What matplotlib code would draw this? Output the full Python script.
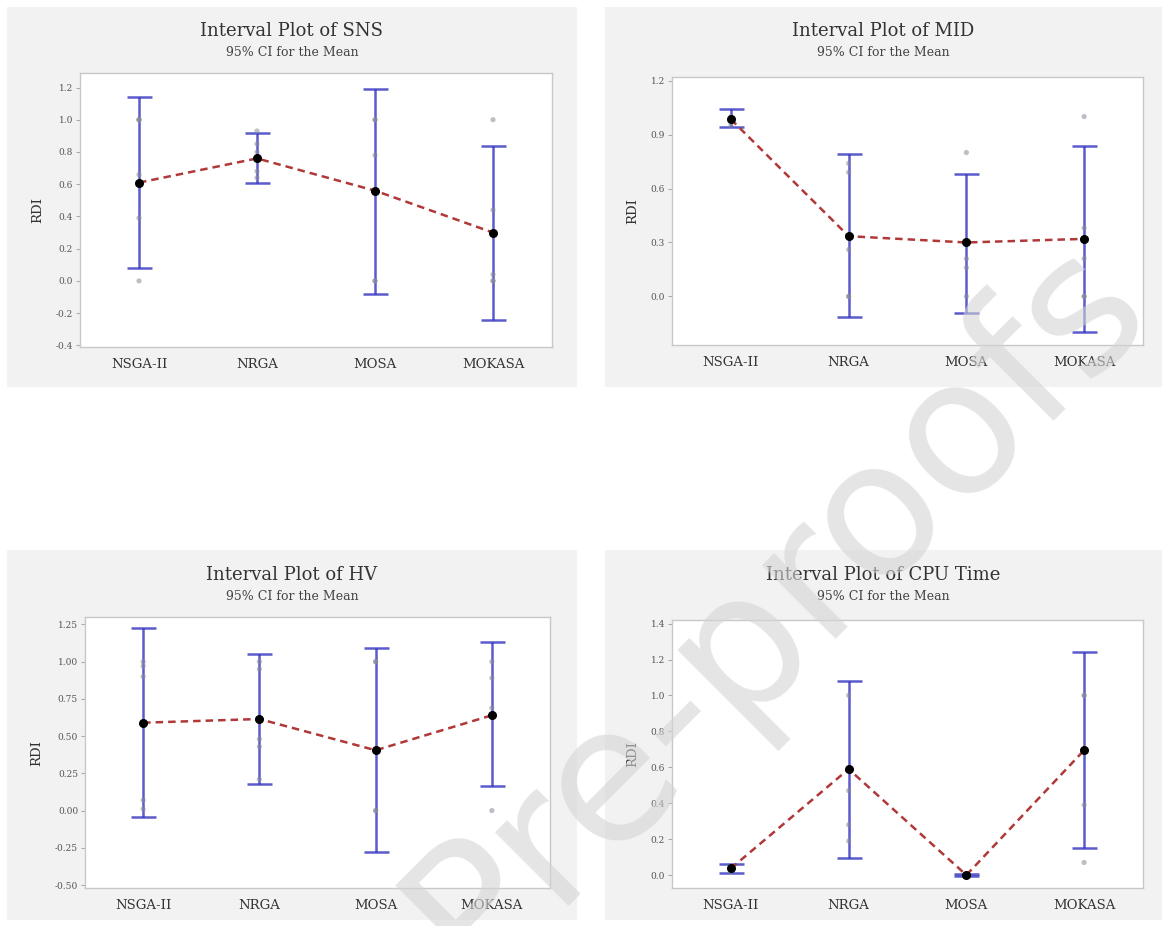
import numpy as np
import matplotlib
matplotlib.use('Agg')
import matplotlib.pyplot as plt
from matplotlib.patches import Rectangle

W, H = 1166, 926

groups = ['NSGA-II', 'NRGA', 'MOSA', 'MOKASA']

# SNS
sns_mean = [0.61, 0.76, 0.56, 0.30]
sns_low = [0.08, 0.61, -0.08, -0.24]
sns_high = [1.14, 0.92, 1.19, 0.84]
sns_pts = [[1.0, 1.0, 1.0, 0.66, 0.39, 0.0],
           [0.93, 0.85, 0.80, 0.68, 0.64],
           [1.0, 1.0, 0.78, 0.0, 0.0],
           [1.0, 0.44, 0.04, 0.0, 0.0]]

# MID
mid_mean = [0.985, 0.335, 0.30, 0.32]
mid_low = [0.94, -0.115, -0.09, -0.20]
mid_high = [1.04, 0.79, 0.68, 0.835]
mid_pts = [[1.0, 0.99, 0.97, 0.95],
           [0.74, 0.69, 0.26, 0.0, 0.0],
           [0.80, 0.21, 0.16, 0.0],
           [1.0, 0.38, 0.21, 0.0, 0.0]]

# HV
hv_mean = [0.59, 0.615, 0.405, 0.64]
hv_low = [-0.04, 0.18, -0.275, 0.165]
hv_high = [1.225, 1.05, 1.09, 1.13]
hv_pts = [[1.0, 0.97, 0.90, 0.07, 0.01],
          [1.0, 0.95, 0.48, 0.43, 0.21],
          [1.0, 1.0, 0.0, 0.0],
          [1.0, 0.89, 0.69, 0.0]]

# CPU time
cpu_mean = [0.037, 0.59, 0.0, 0.695]
cpu_low = [0.013, 0.097, -0.004, 0.15]
cpu_high = [0.059, 1.08, 0.005, 1.24]
cpu_pts = [[0.05, 0.04, 0.03, 0.02],
           [1.0, 0.47, 0.28, 0.19],
           [0.0, 0.0],
           [1.0, 1.0, 0.39, 0.07]]

panels = [
    ('SNS', sns_mean, sns_low, sns_high, sns_pts, (7, 7, 577, 387), (80, 73, 552, 347),
     (-0.41, 1.29), np.arange(-0.4, 1.21, 0.2), '%.1f', 31),
    ('MID', mid_mean, mid_low, mid_high, mid_pts, (605, 7, 1162, 387), (672, 77, 1143, 345),
     (-0.27, 1.22), np.arange(0.0, 1.21, 0.3), '%.1f', 31),
    ('HV', hv_mean, hv_low, hv_high, hv_pts, (7, 550, 577, 920), (85, 617, 550, 888),
     (-0.52, 1.30), np.arange(-0.5, 1.26, 0.25), '%.2f', 575),
    ('CPU Time', cpu_mean, cpu_low, cpu_high, cpu_pts, (605, 550, 1162, 920), (672, 620, 1143, 888),
     (-0.072, 1.42), np.arange(0.0, 1.41, 0.2), '%.1f', 575),
]

plt.rcParams['font.family'] = ['DejaVu Serif']

fig = plt.figure(figsize=(W / 100, H / 100), dpi=100)
fig.patch.set_facecolor('white')


def rect(l, t, r, b):
    return [l / W, 1 - b / H, (r - l) / W, (b - t) / H]


for name, mean, low, high, pts, box, axbox, ylim, yt, fmt, ty in panels:
    # gray panel background
    fig.patches.append(Rectangle((box[0] / W, 1 - box[3] / H), (box[2] - box[0]) / W,
                                 (box[3] - box[1]) / H, transform=fig.transFigure,
                                 facecolor='#f2f2f2', edgecolor='none', zorder=-5))
    cx = (box[0] + box[2]) / 2 / W
    fig.text(cx, 1 - ty / H, 'Interval Plot of ' + name, ha='center', va='center',
             fontsize=13, color='#333333')
    fig.text(cx, 1 - (ty + 21) / H, '95% CI for the Mean', ha='center', va='center',
             fontsize=9, color='#444444')

    ax = fig.add_axes(rect(*axbox))
    x = np.arange(1, len(groups) + 1)
    mean = np.array(mean)
    err = [mean - np.array(low), np.array(high) - mean]

    # individual values
    for i, vals in enumerate(pts):
        ax.scatter([x[i]] * len(vals), vals, s=14, color='#8a8a9a', alpha=0.55,
                   edgecolors='none', zorder=3)

    ax.errorbar(x, mean, yerr=err, fmt='none', ecolor='#3232c0', elinewidth=1.8,
                capsize=9, capthick=1.8, alpha=0.8, zorder=2)
    ax.plot(x, mean, linestyle=(0, (3, 2)), color='#b03838', lw=1.8, zorder=4)
    ax.plot(x, mean, 'o', color='black', ms=5.5, zorder=5)

    ax.set_xlim(0.5, 4.5)
    ax.set_ylim(*ylim)
    ax.set_yticks(yt)
    ax.set_yticklabels([fmt % v for v in yt])
    ax.set_xticks(x)
    ax.set_xticklabels(groups)
    ax.tick_params(axis='x', length=0, labelsize=9.5, pad=8, labelcolor='#333333')
    ax.tick_params(axis='y', length=3, width=0.8, color='#aaaaaa', labelsize=6.5,
                   labelcolor='#555555', pad=2)
    for s in ax.spines.values():
        s.set_color('#c8c8c8')
        s.set_linewidth(1.0)
    ax.set_ylabel('RDI', fontsize=9.5, color='#333333', labelpad=8)

# watermark
fig.text(0.665, 0.345, 'Pre-proofs', rotation=45, ha='center', va='center',
         fontsize=136, family='DejaVu Sans', color='#d4d4d4', alpha=0.6, zorder=20)

fig.savefig('out.png', dpi=100, facecolor='white')
